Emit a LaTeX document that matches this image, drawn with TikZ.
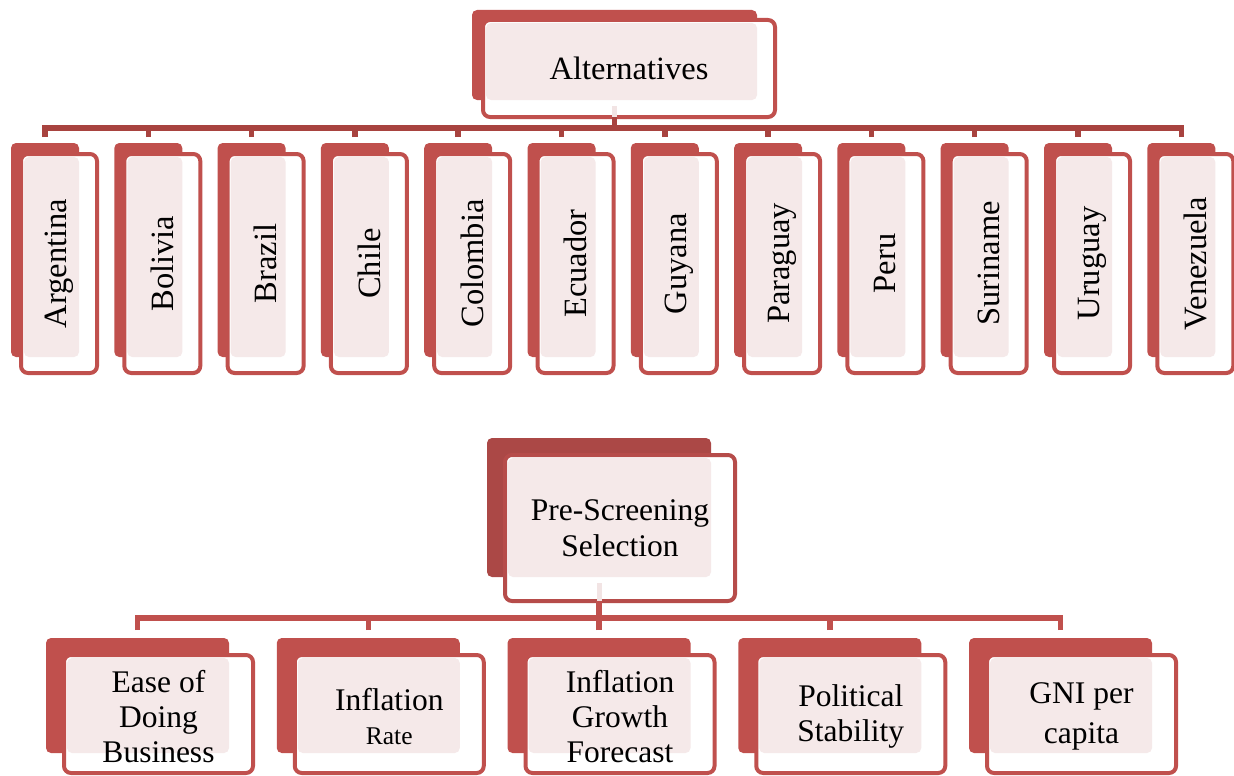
\documentclass[tikz,border=0pt]{standalone}
\usepackage{fontspec}
\setmainfont{Liberation Serif}
\usetikzlibrary{calc}
\definecolor{accred}{HTML}{C0504D}
\definecolor{darkred}{HTML}{A8433F}
\definecolor{prered}{HTML}{AB4846}
\definecolor{preborder}{HTML}{B64C4A}
\definecolor{pinkfill}{HTML}{F5E9E9}
\definecolor{stubcol}{HTML}{F2E4E4}
\tikzset{
  backbox/.style={rectangle, rounded corners=5pt, fill=accred, draw=none, inner sep=0pt, outer sep=0pt},
  frontbox/.style={rectangle, rounded corners=7pt, fill=white, draw=accred, line width=4pt, inner sep=0pt, outer sep=0pt},
  pinkbox/.style={rectangle, rounded corners=5pt, fill=pinkfill, draw=none, inner sep=0pt, outer sep=0pt},
  lbl/.style={font=\fontsize{32.5}{35}\selectfont, align=center, inner sep=0pt, text=black},
  smalllbl/.style={font=\fontsize{31.5}{35}\selectfont, align=center, inner sep=0pt, text=black},
  stubline/.style={draw=stubcol, line width=5pt},
  topconn/.style={draw=darkred, line width=5.5pt},
  botconn/.style={draw=accred, line width=5.5pt},
}
\begin{document}
\begin{tikzpicture}[x=1pt,y=-1pt]
\useasboundingbox (0,0) rectangle (1234,776);
% ---------- Alternatives ----------
\node[backbox, minimum width=285pt, minimum height=90pt] (altB) at (614.5,55) {};
\node[frontbox, minimum width=292pt, minimum height=97pt] (altF) at (629,68.5) {};
\node[pinkbox, minimum width=271pt, minimum height=77pt] (altP) at (621.5,61.5) {};
\node[lbl] (altT) at (altF.center) {Alternatives};
\coordinate (tophub) at (614.5,128);
% ---------- countries ----------
\foreach \nm [count=\i from 0] in {Argentina,Bolivia,Brazil,Chile,Colombia,Ecuador,Guyana,Paraguay,Peru,Suriname,Uruguay,Venezuela}{
  \pgfmathsetmacro\bx{11+103.3*\i}
  \node[backbox, minimum width=68pt, minimum height=214pt] (cb\i) at (\bx+34,250) {};
  \node[frontbox, minimum width=76pt, minimum height=219pt] (cf\i) at (\bx+48,263.5) {};
  \node[pinkbox, minimum width=55pt, minimum height=200pt] (cp\i) at (\bx+40.5,257) {};
  \node[lbl, rotate=90] (ct\i) at (cf\i.center) {\nm};
  \draw[topconn, shorten <=6pt] (cb\i.north) |- (tophub);
}
\draw[stubline, shorten <=6pt] (altB.south) -- (altB.south |- altF.south);
\draw[topconn] (altB.south |- altF.south) -- (tophub);
% ---------- Pre-Screening ----------
\node[backbox, fill=prered, minimum width=224pt, minimum height=139pt] (preB) at (599,507.5) {};
\node[frontbox, draw=preborder, minimum width=230pt, minimum height=146pt] (preF) at (620,528) {};
\node[pinkbox, minimum width=203pt, minimum height=119pt] (preP) at (609.5,517.5) {};
\node[lbl, font=\fontsize{31.5}{36}\selectfont] (preT) at (preF.center) {Pre-Screening\\Selection};
\coordinate (bothub) at (599,618);
% ---------- criteria ----------
\foreach \txt [count=\i from 0] in {{Ease of\\Doing\\Business},{Inflation\\[-1pt]{\fontsize{25.5}{28}\selectfont Rate}},{Inflation\\Growth\\Forecast},{Political\\Stability},{GNI per\\[5pt]capita}}{
  \pgfmathsetmacro\bx{46+230.75*\i}
  \node[backbox, minimum width=183pt, minimum height=115pt] (kb\i) at (\bx+91.5,695.5) {};
  \node[frontbox, minimum width=189pt, minimum height=118pt] (kf\i) at (\bx+112.5,714) {};
  \node[pinkbox, minimum width=162pt, minimum height=95pt] (kp\i) at (\bx+102,705.5) {};
  \node[smalllbl] (kt\i) at ($(kf\i.center)+(0,2.5)$) {\txt};
  \draw[botconn, shorten <=8pt] (kb\i.north) |- (bothub);
}
\draw[stubline, shorten <=6pt] (preB.south) -- (preB.south |- preF.south);
\draw[botconn] (preB.south |- preF.south) -- (bothub);
\end{tikzpicture}
\end{document}
